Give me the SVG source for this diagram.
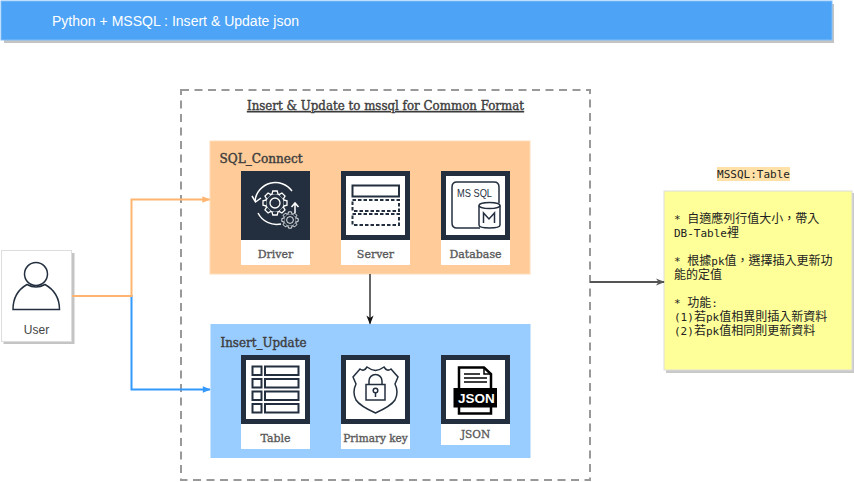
<svg xmlns="http://www.w3.org/2000/svg" width="854" height="482" viewBox="0 0 854 482">
<style>
.lab{font-family:"DejaVu Serif","Liberation Serif",serif;fill:#5a5a5a;text-anchor:middle;font-size:11px;stroke:#5a5a5a;stroke-width:.35px}
.head{font-family:"DejaVu Serif","Liberation Serif",serif;fill:#3d3d3d;font-size:12px;stroke:#3d3d3d;stroke-width:.4px}
.mono{font-family:"DejaVu Sans Mono","Noto Sans CJK TC",monospace;font-size:11px;fill:#222}
.c{font-family:"Noto Sans CJK TC","DejaVu Sans Mono",sans-serif;font-size:12px}
.ic{fill:none;stroke:#232f3e;stroke-width:1.5}
.frame{fill:#fff;stroke:#232f3e;stroke-width:5}
.card{fill:#fff}
.conn{fill:none;stroke-width:2}
.tooth{fill:#232f3e;stroke:#fff;stroke-width:1.300}
</style>
<defs>
<marker id="aO" viewBox="0 0 10 10" refX="9" refY="5" markerWidth="10" markerHeight="8" markerUnits="userSpaceOnUse" orient="auto"><path d="M0 1L10 5L0 9Z" fill="#ffb570"/></marker>
<marker id="aB" viewBox="0 0 10 10" refX="9" refY="5" markerWidth="10" markerHeight="8" markerUnits="userSpaceOnUse" orient="auto"><path d="M0 1L10 5L0 9Z" fill="#3399ff"/></marker>
<marker id="aK" viewBox="0 0 10 10" refX="9" refY="5" markerWidth="10" markerHeight="9" markerUnits="userSpaceOnUse" orient="auto"><path d="M0 1L10 5L0 9L3 5Z" fill="#111"/></marker>
<marker id="aG" viewBox="0 0 10 10" refX="9" refY="5" markerWidth="10" markerHeight="9" markerUnits="userSpaceOnUse" orient="auto"><path d="M0 1L10 5L0 9L3 5Z" fill="#555"/></marker>
<path id="t" class="tooth" d="M-3 -8.800L-2.200 -12H2.200L3 -8.800"/>
<g id="gear">
<circle r="9.300" class="tooth"/>
<use href="#t"/><use href="#t" transform="rotate(45)"/><use href="#t" transform="rotate(90)"/><use href="#t" transform="rotate(135)"/><use href="#t" transform="rotate(180)"/><use href="#t" transform="rotate(225)"/><use href="#t" transform="rotate(270)"/><use href="#t" transform="rotate(315)"/>
<circle r="5" class="tooth"/>
</g>
</defs>

<g id="header">
<rect x="4" y="4" width="830" height="39" fill="#c4c4c4"/>
<rect x="1" y="1" width="831" height="39" fill="#4da3f5" stroke="#7fbdf7"/>
<text x="52" y="26" font-family="Liberation Sans,Arial,sans-serif" font-size="14" fill="#fff" textLength="247" lengthAdjust="spacingAndGlyphs">Python + MSSQL : Insert &amp; Update json</text>
</g>

<g id="container">
<rect x="181" y="90" width="409" height="390" fill="none" stroke="#999" stroke-width="2" stroke-dasharray="8 5.500"/>
<text x="385.500" y="110" class="head" text-anchor="middle" text-decoration="underline" textLength="277" lengthAdjust="spacingAndGlyphs">Insert &amp; Update to mssql for Common Format</text>
</g>

<g id="sql-connect">
<rect x="210" y="141" width="320" height="133" fill="#ffcc99" stroke="#ffdcb8"/>
<text x="219.500" y="163" class="head" textLength="83" lengthAdjust="spacingAndGlyphs">SQL_Connect</text>
</g>

<g id="insert-update">
<rect x="210.500" y="324" width="320" height="134" fill="#99ccff"/>
<text x="220.500" y="347" class="head" textLength="86" lengthAdjust="spacingAndGlyphs">Insert_Update</text>
</g>

<g id="driver">
<rect x="241" y="171" width="69" height="94" class="card"/>
<rect x="241" y="171" width="69" height="69" fill="#232f3e"/>
<g fill="none" stroke="#fff" stroke-width="1.500">
<path d="M255 201A20.500 20.500 0 0 1 292 191"/><path d="M252 196L255.500 202L261 198"/>
<path d="M258 213A21 21 0 0 0 281 224"/>
<path d="M295 213L295 204M291.500 207L295 203L298.500 207"/>
</g>
<use href="#gear" transform="translate(275 203)"/>
<use href="#gear" transform="translate(290 220) scale(.68)"/>
<text x="275.500" y="258" class="lab">Driver</text>
</g>

<g id="server">
<rect x="341" y="171" width="69" height="94" class="card"/>
<rect x="343.500" y="173.500" width="64" height="64" class="frame"/>
<rect x="352.500" y="185.500" width="46.500" height="11" class="ic" style="stroke-width:2"/>
<rect x="352.500" y="200" width="46.500" height="11" class="ic" stroke-dasharray="3.500 2" style="stroke-width:2"/>
<rect x="352.500" y="214" width="46.500" height="11" class="ic" stroke-dasharray="3.500 2" style="stroke-width:2"/>
<text x="375.500" y="258" class="lab">Server</text>
</g>

<g id="database">
<rect x="441" y="171" width="69" height="94" class="card"/>
<rect x="443.500" y="173.500" width="64" height="64" class="frame"/>
<path d="M480 228H457Q452 228 452 223V187Q452 182 457 182H494Q499 182 499 187V203" class="ic"/>
<ellipse cx="489.500" cy="205.500" rx="10.500" ry="3" fill="#fff" stroke="#232f3e" stroke-width="1.500"/>
<path d="M479 205.500V225Q479 228 489.500 228Q500 228 500 225V205.500" class="ic"/>
<path d="M483.500 223V213L489 219L494.500 213V223" class="ic"/>
<text x="457" y="197" font-family="Liberation Sans,Arial,sans-serif" font-size="10.500" fill="#232f3e" textLength="35" lengthAdjust="spacingAndGlyphs">MS SQL</text>
<text x="475.500" y="258" class="lab">Database</text>
</g>

<g id="table">
<rect x="241" y="355" width="69" height="94" class="card"/>
<rect x="243.500" y="357.500" width="64" height="64" class="frame"/>
<g class="ic" style="stroke-width:2">
<rect x="252.500" y="366.500" width="9" height="8.500"/><rect x="265" y="366.500" width="33.500" height="8.500"/>
<rect x="252.500" y="379" width="9" height="8.500"/><rect x="265" y="379" width="33.500" height="8.500"/>
<rect x="252.500" y="391.500" width="9" height="8.500"/><rect x="265" y="391.500" width="33.500" height="8.500"/>
<rect x="252.500" y="404" width="9" height="8.500"/><rect x="265" y="404" width="33.500" height="8.500"/>
</g>
<text x="275.500" y="442" class="lab">Table</text>
</g>

<g id="primary-key">
<rect x="341" y="355" width="69" height="94" class="card"/>
<rect x="343.500" y="357.500" width="64" height="64" class="frame"/>
<path d="M353 377L360 369Q364 372 367 367Q371 370 375.500 370.500Q380 370 384 367Q387 372 391 369L398 377L395 384Q399 392 395 400Q391 406 375.500 413Q360 406 356 400Q352 392 356 384Z" class="ic"/>
<rect x="366" y="384.500" width="19" height="15.500" class="ic"/>
<path d="M369 384.500V381A6.500 6.500 0 0 1 382 381V384.500" class="ic"/>
<circle cx="375.500" cy="390.500" r="2.300" class="ic"/><path d="M375.500 393V397" class="ic"/>
<text x="375.500" y="442" class="lab" style="font-size:10.500px">Primary key</text>
</g>

<g id="json">
<rect x="441" y="355" width="69" height="90" class="card"/>
<rect x="443.500" y="357.500" width="64" height="64" class="frame"/>
<path d="M459 388V367.500H484L491 374V388" fill="none" stroke="#000" stroke-width="2.500"/>
<path d="M484 367.500V374H491" fill="none" stroke="#000" stroke-width="1.500"/>
<path d="M464 374H480M464 378H487M464 382H487" stroke="#000" stroke-width="1.500"/>
<path d="M459 407V413.500H491V407" fill="none" stroke="#000" stroke-width="2.500"/>
<rect x="453.500" y="388" width="43.500" height="19.500" fill="#000"/>
<text x="476.500" y="403" font-family="Liberation Sans,Arial,sans-serif" font-weight="bold" font-size="13.500" fill="#fff" text-anchor="middle">JSON</text>
<text x="475.500" y="438" class="lab" style="font-size:10.500px">JSON</text>
</g>

<g id="user">
<rect x="3.500" y="253" width="71" height="91" fill="#c4c4c4"/>
<rect x="1.500" y="250.500" width="70" height="91" fill="#fff" stroke="#ddd"/>
<circle cx="36" cy="274" r="11.500" fill="none" stroke="#232f3e" stroke-width="1.500"/>
<path d="M13 309.500C13 297 19 289 27 284.500Q36 289.500 45 284.500C53 289 59.500 297 59.500 309.500Z" fill="none" stroke="#232f3e" stroke-width="1.500"/>
<text x="36.500" y="334" font-family="Liberation Sans,Arial,sans-serif" font-size="12" fill="#444" text-anchor="middle">User</text>
</g>

<g id="note">
<rect x="666" y="193" width="188" height="180" fill="#c9c9c9"/>
<rect x="664" y="191" width="188" height="179" fill="#ffff99" stroke="#ddd"/>
<rect x="717" y="167" width="73" height="14" fill="#ffe0a6"/>
<text x="753.500" y="178" class="mono" text-anchor="middle">MSSQL:Table</text>
<text class="mono" x="674" y="223" xml:space="preserve">* <tspan class="c">自適應列行值大小，帶入</tspan></text>
<text class="mono" x="674" y="237">DB-Table<tspan class="c">裡</tspan></text>
<text class="mono" x="674" y="265" xml:space="preserve">* <tspan class="c">根據</tspan>pk<tspan class="c">值，選擇插入更新功</tspan></text>
<text class="mono" x="674" y="279"><tspan class="c">能的定值</tspan></text>
<text class="mono" x="674" y="307" xml:space="preserve">* <tspan class="c">功能</tspan>:</text>
<text class="mono" x="674" y="321">(1)<tspan class="c">若</tspan>pk<tspan class="c">值相異則插入新資料</tspan></text>
<text class="mono" x="674" y="335">(2)<tspan class="c">若</tspan>pk<tspan class="c">值相同則更新資料</tspan></text>
</g>

<g id="connectors">
<path d="M72 296H131.500V389.500H210" class="conn" stroke="#3399ff" marker-end="url(#aB)"/>
<path d="M72 296H131.500V199.500H209.500" class="conn" stroke="#ffb570" marker-end="url(#aO)"/>
<path d="M370 274V323.500" fill="none" stroke="#333" stroke-width="1.500" marker-end="url(#aK)"/>
<path d="M590 282H664" fill="none" stroke="#555" stroke-width="2" marker-end="url(#aG)"/>
</g>
</svg>
